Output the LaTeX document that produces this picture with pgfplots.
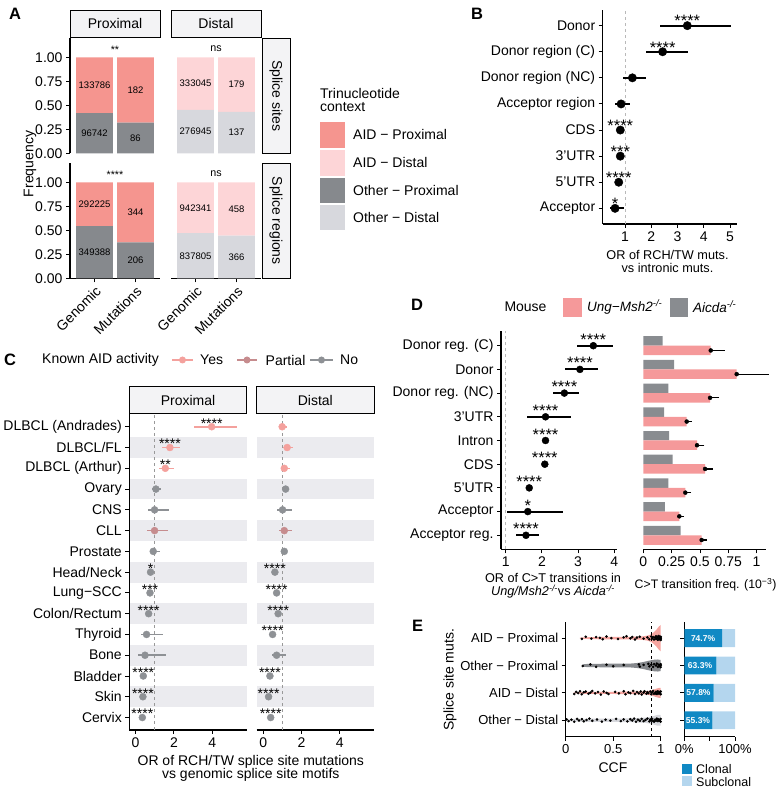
\documentclass[border=0pt]{standalone}
\usepackage{fontspec}
\setmainfont{Liberation Sans}
\usepackage{pgfplots}
\pgfplotsset{compat=1.18}

\definecolor{aidp}{HTML}{F5958F}
\definecolor{aidd}{HTML}{FDD5D7}
\definecolor{othp}{HTML}{86898D}
\definecolor{othd}{HTML}{D7D8DD}
\definecolor{strip}{HTML}{F3F3F5}
\definecolor{band}{HTML}{EBEBEF}
\definecolor{yes}{HTML}{F4A19D}
\definecolor{partial}{HTML}{C68C8E}
\definecolor{no}{HTML}{8E9195}
\definecolor{ung}{HTML}{F5999A}
\definecolor{aicda}{HTML}{898C90}
\definecolor{clonal}{HTML}{1089C4}
\definecolor{subclonal}{HTML}{B4D6EE}

\newcommand\fs[1]{\fontsize{#1}{#1}\selectfont}

\pgfplotsset{
  gg/.style={scale only axis, anchor=south west, clip=false, set layers,
    axis line style={line width=1.1pt},
    tick style={black, line width=0.9pt},
    major tick length=4pt,
    tick label style={font=\fs{14}},
    /pgf/number format/assume math mode=true},
}

\begin{document}
\begin{tikzpicture}[x=1pt,y=1pt]

% ================= A =================
\begin{axis}[gg, at={(70pt,634.7pt)}, width=90pt, height=115pt,
  xmin=0.4, xmax=2.6, ymin=0, ymax=1.2,
  axis x line=none, axis y line*=left, tick align=outside,
  ytick={0,0.25,0.5,0.75,1}, yticklabels={0.00,0.25,0.50,0.75,1.00},
  ybar stacked, bar width=0.9]
\addplot[fill=othp, draw=none] coordinates {(1,0.4197) (2,0.3209)};
\addplot[fill=aidp, draw=none] coordinates {(1,0.5803) (2,0.6791)};
\coordinate (a1) at (axis cs:1,0.710);
\coordinate (a2) at (axis cs:2,0.660);
\coordinate (a3) at (axis cs:1,0.210);
\coordinate (a4) at (axis cs:2,0.160);
\coordinate (a5) at (axis cs:1.5,1.08);
\end{axis}
\node[font=\fs{9.5}] at (a1) {133786};
\node[font=\fs{9.5}] at (a2) {182};
\node[font=\fs{9.5}] at (a3) {96742};
\node[font=\fs{9.5}] at (a4) {86};
\node[font=\fs{10.7}] at (a5) {**};

\begin{axis}[gg, at={(171pt,634.7pt)}, width=90pt, height=115pt,
  xmin=0.4, xmax=2.6, ymin=0, ymax=1.2, axis lines=none,
  ybar stacked, bar width=0.9]
\addplot[fill=othd, draw=none] coordinates {(1,0.4540) (2,0.4335)};
\addplot[fill=aidd, draw=none] coordinates {(1,0.5460) (2,0.5665)};
\coordinate (b1) at (axis cs:1,0.727);
\coordinate (b2) at (axis cs:2,0.717);
\coordinate (b3) at (axis cs:1,0.227);
\coordinate (b4) at (axis cs:2,0.217);
\coordinate (b5) at (axis cs:1.5,1.096);
\end{axis}
\node[font=\fs{9.5}] at (b1) {333045};
\node[font=\fs{9.5}] at (b2) {179};
\node[font=\fs{9.5}] at (b3) {276945};
\node[font=\fs{9.5}] at (b4) {137};
\node[font=\fs{10.7}] at (b5) {ns};

\begin{axis}[gg, at={(70pt,509.7pt)}, width=90pt, height=115pt,
  xmin=0.4, xmax=2.6, ymin=0, ymax=1.2,
  axis x line*=bottom, axis y line*=left, tick align=outside,
  xtick={1,2}, xticklabels={Genomic,Mutations},
  xticklabel style={rotate=45, anchor=north east, inner sep=2pt},
  ytick={0,0.25,0.5,0.75,1}, yticklabels={0.00,0.25,0.50,0.75,1.00},
  ybar stacked, bar width=0.9]
\addplot[fill=othp, draw=none] coordinates {(1,0.5446) (2,0.3745)};
\addplot[fill=aidp, draw=none] coordinates {(1,0.4554) (2,0.6255)};
\coordinate (c1) at (axis cs:1,0.772);
\coordinate (c2) at (axis cs:2,0.687);
\coordinate (c3) at (axis cs:1,0.272);
\coordinate (c4) at (axis cs:2,0.187);
\coordinate (c5) at (axis cs:1.5,1.08);
\end{axis}
\node[font=\fs{9.5}] at (c1) {292225};
\node[font=\fs{9.5}] at (c2) {344};
\node[font=\fs{9.5}] at (c3) {349388};
\node[font=\fs{9.5}] at (c4) {206};
\node[font=\fs{10.7}] at (c5) {****};

\begin{axis}[gg, at={(171pt,509.7pt)}, width=90pt, height=115pt,
  xmin=0.4, xmax=2.6, ymin=0, ymax=1.2,
  axis x line*=bottom, axis y line=none, tick align=outside,
  xtick={1,2}, xticklabels={Genomic,Mutations},
  xticklabel style={rotate=45, anchor=north east, inner sep=2pt},
  ybar stacked, bar width=0.9]
\addplot[fill=othd, draw=none] coordinates {(1,0.4706) (2,0.4442)};
\addplot[fill=aidd, draw=none] coordinates {(1,0.5294) (2,0.5558)};
\coordinate (d1) at (axis cs:1,0.735);
\coordinate (d2) at (axis cs:2,0.722);
\coordinate (d3) at (axis cs:1,0.235);
\coordinate (d4) at (axis cs:2,0.222);
\coordinate (d5) at (axis cs:1.5,1.096);
\end{axis}
\node[font=\fs{9.5}] at (d1) {942341};
\node[font=\fs{9.5}] at (d2) {458};
\node[font=\fs{9.5}] at (d3) {837805};
\node[font=\fs{9.5}] at (d4) {366};
\node[font=\fs{10.7}] at (d5) {ns};

% strips A
\draw[line width=0.9pt, fill=strip] (70,751) rectangle (160,778);
\draw[line width=0.9pt, fill=strip] (171,751) rectangle (261,778);
\node[font=\fs{14}] at (115,764.5) {Proximal};
\node[font=\fs{14}] at (216,764.5) {Distal};
\draw[line width=0.9pt, fill=strip] (262,634.7) rectangle (290,749.7);
\draw[line width=0.9pt, fill=strip] (262,509.7) rectangle (290,624.7);
\node[font=\fs{14}, rotate=-90] at (276,692.2) {Splice sites};
\node[font=\fs{14}, rotate=-90] at (276,567.2) {Splice regions};
\node[font=\fs{14}, rotate=90] at (30,624) {Frequency};

% legend A
\node[font=\fs{14}, anchor=west, inner sep=0pt] at (320,694.7) {Trinucleotide};
\node[font=\fs{14}, anchor=west, inner sep=0pt] at (320,681.3) {context};
\fill[aidp] (320,640.3) rectangle (345,666.3);
\fill[aidd] (320,612.3) rectangle (345,638);
\fill[othp] (320,585.3) rectangle (345,610.3);
\fill[othd] (320,558) rectangle (345,583);
\node[font=\fs{14}, anchor=west, inner sep=0pt] at (353,653.3) {AID − Proximal};
\node[font=\fs{14}, anchor=west, inner sep=0pt] at (353,625.1) {AID − Distal};
\node[font=\fs{14}, anchor=west, inner sep=0pt] at (353,597.8) {Other − Proximal};
\node[font=\fs{14}, anchor=west, inner sep=0pt] at (353,570.5) {Other − Distal};

% ================= B =================
\begin{axis}[gg, at={(602.7pt,564pt)}, width=134pt, height=214pt,
  xmin=0.15, xmax=5.25, ymin=0.4, ymax=8.6,
  axis x line*=bottom, axis y line*=left, tick align=outside,
  xtick={1,2,3,4,5}, ytick={1,...,8},
  yticklabels={Acceptor, 5'UTR, 3'UTR, CDS, Acceptor region, Donor region (NC), Donor region (C), Donor}]
\addplot[gray!55, dashed, line width=0.6pt] coordinates {(1,0.4) (1,8.6)};
\addplot[only marks, mark=*, mark size=4.2pt, black,
  error bars/.cd, x dir=both, x explicit, error mark=none, error bar style={line width=2pt}]
  coordinates {
  (3.37,8) += (1.66,0) -= (1.04,0)
  (2.43,7) += (0.98,0) -= (0.64,0)
  (1.28,6) += (0.51,0) -= (0.35,0)
  (0.85,5) += (0.32,0) -= (0.23,0)
  (0.82,4) += (0.03,0) -= (0.03,0)
  (0.82,3) += (0.03,0) -= (0.03,0)
  (0.76,2) += (0.03,0) -= (0.03,0)
  (0.62,1) += (0.34,0) -= (0.19,0)
  };
\node[font=\fs{16.5}, anchor=base] at (axis cs:3.37,7.95) {****};
\node[font=\fs{16.5}, anchor=base] at (axis cs:2.43,6.95) {****};
\node[font=\fs{16.5}, anchor=base] at (axis cs:0.82,3.95) {****};
\node[font=\fs{16.5}, anchor=base] at (axis cs:0.82,2.95) {***};
\node[font=\fs{16.5}, anchor=base] at (axis cs:0.76,1.95) {****};
\node[font=\fs{16.5}, anchor=base] at (axis cs:0.62,0.95) {*};
\end{axis}
\node[font=\fs{12.7}] at (667.5,533) {OR of RCH/TW muts.};
\node[font=\fs{12.7}] at (667.5,519.7) {vs intronic muts.};

% ================= C =================
\begin{axis}[gg, at={(129.3pt,58pt)}, width=117.4pt, height=315.7pt,
  xmin=-0.33, xmax=5.8, ymin=0.4, ymax=15.6,
  axis x line*=bottom, axis y line*=left, tick align=outside,
  xtick={0,2,4}, ytick={1,...,15},
  yticklabels={Cervix, Skin, Bladder, Bone, Thyroid, Colon/Rectum, Lung−SCC, Head/Neck, Prostate, CLL, CNS, Ovary, DLBCL (Arthur), DLBCL/FL, DLBCL (Andrades)}]
\begin{pgfonlayer}{axis background}
\fill[band] (axis cs:-0.33,1.5) rectangle (axis cs:5.8,2.5);
\fill[band] (axis cs:-0.33,3.5) rectangle (axis cs:5.8,4.5);
\fill[band] (axis cs:-0.33,5.5) rectangle (axis cs:5.8,6.5);
\fill[band] (axis cs:-0.33,7.5) rectangle (axis cs:5.8,8.5);
\fill[band] (axis cs:-0.33,9.5) rectangle (axis cs:5.8,10.5);
\fill[band] (axis cs:-0.33,11.5) rectangle (axis cs:5.8,12.5);
\fill[band] (axis cs:-0.33,13.5) rectangle (axis cs:5.8,14.5);
\end{pgfonlayer}
\addplot[gray!80, dashed, line width=0.6pt] coordinates {(1,0.4) (1,15.6)};
\addplot[only marks, mark=*, mark size=3.5pt, no, error bars/.cd, x dir=both, x explicit, error mark=none, error bar style={line width=1.5pt}]
  coordinates {
  (1.06,12) += (0.24,0) -= (0.19,0)
  (0.99,11) += (0.75,0) -= (0.36,0)
  (0.92,9) += (0.36,0) -= (0.17,0)
  (0.78,8) += (0.05,0) -= (0.05,0)
  (0.75,7) += (0.05,0) -= (0.05,0)
  (0.68,6) += (0.04,0) -= (0.04,0)
  (0.57,5) += (0.84,0) -= (0.31,0)
  (0.49,4) += (1.09,0) -= (0.35,0)
  (0.40,3) += (0.03,0) -= (0.03,0)
  (0.38,2) += (0.03,0) -= (0.03,0)
  (0.35,1) += (0.03,0) -= (0.03,0)
  };
\addplot[only marks, mark=*, mark size=3.5pt, partial, error bars/.cd, x dir=both, x explicit, error mark=none, error bar style={line width=1.5pt}]
  coordinates {(0.99,10) += (0.71,0) -= (0.38,0)};
\addplot[only marks, mark=*, mark size=3.5pt, yes, error bars/.cd, x dir=both, x explicit, error mark=none, error bar style={line width=1.5pt}]
  coordinates {
  (3.97,15) += (1.30,0) -= (0.93,0)
  (1.79,14) += (0.52,0) -= (0.43,0)
  (1.55,13) += (0.47,0) -= (0.33,0)
  };
\node[font=\fs{14}, anchor=base] at (axis cs:3.97,14.93) {****};
\node[font=\fs{14}, anchor=base] at (axis cs:1.79,13.93) {****};
\node[font=\fs{14}, anchor=base] at (axis cs:1.55,12.93) {**};
\node[font=\fs{14}, anchor=base] at (axis cs:0.78,7.93) {*};
\node[font=\fs{14}, anchor=base] at (axis cs:0.75,6.93) {***};
\node[font=\fs{14}, anchor=base] at (axis cs:0.68,5.93) {****};
\node[font=\fs{14}, anchor=base] at (axis cs:0.40,2.93) {****};
\node[font=\fs{14}, anchor=base] at (axis cs:0.38,1.93) {****};
\node[font=\fs{14}, anchor=base] at (axis cs:0.35,0.93) {****};
\end{axis}

\begin{axis}[gg, at={(256.7pt,58pt)}, width=117.3pt, height=315.7pt,
  xmin=-0.34, xmax=5.785, ymin=0.4, ymax=15.6,
  axis x line*=bottom, axis y line=none, tick align=outside,
  xtick={0,2,4}]
\begin{pgfonlayer}{axis background}
\fill[band] (axis cs:-0.34,1.5) rectangle (axis cs:5.785,2.5);
\fill[band] (axis cs:-0.34,3.5) rectangle (axis cs:5.785,4.5);
\fill[band] (axis cs:-0.34,5.5) rectangle (axis cs:5.785,6.5);
\fill[band] (axis cs:-0.34,7.5) rectangle (axis cs:5.785,8.5);
\fill[band] (axis cs:-0.34,9.5) rectangle (axis cs:5.785,10.5);
\fill[band] (axis cs:-0.34,11.5) rectangle (axis cs:5.785,12.5);
\fill[band] (axis cs:-0.34,13.5) rectangle (axis cs:5.785,14.5);
\end{pgfonlayer}
\addplot[gray!80, dashed, line width=0.6pt] coordinates {(1,0.4) (1,15.6)};
\addplot[only marks, mark=*, mark size=3.5pt, no, error bars/.cd, x dir=both, x explicit, error mark=none, error bar style={line width=1.5pt}]
  coordinates {
  (1.17,12) += (0.05,0) -= (0.05,0)
  (1.01,11) += (0.47,0) -= (0.28,0)
  (1.10,9) += (0.04,0) -= (0.04,0)
  (0.61,8) += (0.04,0) -= (0.04,0)
  (0.70,7) += (0.04,0) -= (0.04,0)
  (0.78,6) += (0.04,0) -= (0.04,0)
  (0.49,5) += (0.04,0) -= (0.04,0)
  (0.70,4) += (0.49,0) -= (0.26,0)
  (0.35,3) += (0.03,0) -= (0.03,0)
  (0.28,2) += (0.03,0) -= (0.03,0)
  (0.39,1) += (0.03,0) -= (0.03,0)
  };
\addplot[only marks, mark=*, mark size=3.5pt, partial, error bars/.cd, x dir=both, x explicit, error mark=none, error bar style={line width=1.5pt}]
  coordinates {(1.10,10) += (0.41,0) -= (0.26,0)};
\addplot[only marks, mark=*, mark size=3.5pt, yes, error bars/.cd, x dir=both, x explicit, error mark=none, error bar style={line width=1.5pt}]
  coordinates {
  (0.99,15) += (0.23,0) -= (0.15,0)
  (1.25,14) += (0.32,0) -= (0.21,0)
  (1.10,13) += (0.29,0) -= (0.18,0)
  };
\node[font=\fs{14}, anchor=base] at (axis cs:0.61,7.93) {****};
\node[font=\fs{14}, anchor=base] at (axis cs:0.70,6.93) {****};
\node[font=\fs{14}, anchor=base] at (axis cs:0.78,5.93) {****};
\node[font=\fs{14}, anchor=base] at (axis cs:0.49,4.93) {****};
\node[font=\fs{14}, anchor=base] at (axis cs:0.35,2.93) {****};
\node[font=\fs{14}, anchor=base] at (axis cs:0.28,1.93) {****};
\node[font=\fs{14}, anchor=base] at (axis cs:0.39,0.93) {****};
\end{axis}

% strips C
\draw[line width=0.9pt, fill=strip] (129.3,374.5) rectangle (246.7,401.3);
\draw[line width=0.9pt, fill=strip] (256.7,374.5) rectangle (374,401.3);
\node[font=\fs{14}] at (188,388) {Proximal};
\node[font=\fs{14}] at (315.3,388) {Distal};
\node[font=\fs{14}] at (250.8,26.3) {OR of RCH/TW splice site mutations};
\node[font=\fs{14}] at (250.8,13) {vs genomic splice site motifs};

% legend C
\node[font=\fs{14}, anchor=west, inner sep=0pt] at (42,428) {Known AID activity};
\draw[yes, line width=1.5pt] (172,428) -- (193,428);
\fill[yes] (182.5,428) circle (3.5);
\node[font=\fs{14}, anchor=west, inner sep=0pt] at (200,428) {Yes};
\draw[partial, line width=1.5pt] (237,428) -- (257,428);
\fill[partial] (247,428) circle (3.5);
\node[font=\fs{14}, anchor=west, inner sep=0pt] at (265.5,428) {Partial};
\draw[no, line width=1.5pt] (310,428) -- (333,428);
\fill[no] (321.5,428) circle (3.5);
\node[font=\fs{14}, anchor=west, inner sep=0pt] at (340,428) {No};

% ================= D =================
\begin{axis}[gg, at={(501pt,238.5pt)}, width=115.7pt, height=218pt,
  xmin=0.87, xmax=4.066, ymin=0.4, ymax=9.6,
  axis x line*=bottom, axis y line*=left, tick align=outside,
  xtick={1,2,3,4}, ytick={1,...,9},
  yticklabels={Acceptor reg., Acceptor, 5'UTR, CDS, Intron, 3'UTR, Donor reg. (NC), Donor, Donor reg. (C)}]
\addplot[gray!55, dashed, line width=0.6pt] coordinates {(1,0.4) (1,9.6)};
\addplot[only marks, mark=*, mark size=3.5pt, black,
  error bars/.cd, x dir=both, x explicit, error mark=none, error bar style={line width=2pt}]
  coordinates {
  (3.42,9) += (0.55,0) -= (0.44,0)
  (3.05,8) += (0.51,0) -= (0.41,0)
  (2.62,7) += (0.40,0) -= (0.32,0)
  (2.10,6) += (0.70,0) -= (0.50,0)
  (2.10,5) += (0.03,0) -= (0.03,0)
  (2.08,4) += (0.03,0) -= (0.03,0)
  (1.65,3) += (0.04,0) -= (0.04,0)
  (1.61,2) += (0.98,0) -= (0.58,0)
  (1.56,1) += (0.37,0) -= (0.28,0)
  };
\node[font=\fs{16.5}, anchor=base] at (axis cs:3.42,9.02) {****};
\node[font=\fs{16.5}, anchor=base] at (axis cs:3.05,8.02) {****};
\node[font=\fs{16.5}, anchor=base] at (axis cs:2.62,7.02) {****};
\node[font=\fs{16.5}, anchor=base] at (axis cs:2.10,6.02) {****};
\node[font=\fs{16.5}, anchor=base] at (axis cs:2.10,5.02) {****};
\node[font=\fs{16.5}, anchor=base] at (axis cs:2.08,4.02) {****};
\node[font=\fs{16.5}, anchor=base] at (axis cs:1.65,3.02) {****};
\node[font=\fs{16.5}, anchor=base] at (axis cs:1.61,2.02) {*};
\node[font=\fs{16.5}, anchor=base] at (axis cs:1.56,1.02) {****};
\end{axis}

\begin{axis}[gg, at={(643.3pt,238.5pt)}, width=122.4pt, height=218pt,
  xmin=0, xmax=1.08, ymin=0.4, ymax=9.6,
  axis x line*=bottom, axis y line=none, tick align=outside,
  xtick={0,0.25,0.5,0.75,1}, xticklabels={0,0.25,0.5,0.75,1}]
\addplot[xbar, bar width=0.4, bar shift=0.2, fill=aicda, draw=none] coordinates {
  (0.170,9) (0.271,8) (0.221,7) (0.183,6) (0.227,5) (0.259,4) (0.221,3) (0.191,2) (0.330,1)};
\addplot[xbar, bar width=0.4, bar shift=-0.2, fill=ung, draw=none] coordinates {
  (0.595,9) (0.824,8) (0.589,7) (0.383,6) (0.474,5) (0.545,4) (0.371,3) (0.318,2) (0.515,1)};
\addplot[only marks, mark=none, black,
  error bars/.cd, x dir=plus, x explicit, error bar style={line width=1.2pt},
  error mark options={black, mark size=3.5pt, line width=1.2pt}]
  coordinates {
  (0.595,8.8) += (0.091,0)
  (0.824,7.8) += (0.250,0)
  (0.589,6.8) += (0.050,0)
  (0.383,5.8) += (0.014,0)
  (0.474,4.8) += (0.035,0)
  (0.545,3.8) += (0.038,0)
  (0.371,2.8) += (0.021,0)
  (0.318,1.8) += (0.012,0)
  (0.515,0.8) += (0.015,0)
  };
\end{axis}

\node[font=\fs{12.7}] at (553,209.7) {OR of C>T transitions in};
\node[font=\fs{12.7}] at (553,196.3) {\textit{Ung/Msh2}\textsuperscript{\itshape -/-}vs \textit{Aicda}\textsuperscript{\itshape -/-}};
\node[font=\fs{12.3}, anchor=west, inner sep=0pt] at (634.5,203) {C>T transition freq. (10\textsuperscript{−3})};

% legend D
\node[font=\fs{14}, anchor=west, inner sep=0pt] at (504.3,481) {Mouse};
\fill[ung] (563.3,471.3) rectangle (581.7,489.7);
\node[font=\fs{13.5}, anchor=west, inner sep=0pt] at (587,481) {\textit{Ung−Msh2}\textsuperscript{\itshape -/-}};
\fill[aicda] (670,471.3) rectangle (688.3,489.7);
\node[font=\fs{13.5}, anchor=west, inner sep=0pt] at (693,481) {\textit{Aicda}\textsuperscript{\itshape -/-}};

% ================= E =================
\begin{axis}[gg, at={(565.7pt,51.3pt)}, width=95pt, height=115pt,
  xmin=0, xmax=1, ymin=0.4, ymax=4.6,
  axis x line*=bottom, axis y line*=left, tick align=outside,
  xtick={0,0.5,1}, xticklabels={0,0.5,1}, ytick={1,2,3,4},
  yticklabels={Other − Distal, AID − Distal, Other − Proximal, AID − Proximal},
  tick label style={font=\fs{13}}]
% violins
\addplot[fill=aidp!85, draw=none] coordinates {
  (0.15,4.02)(0.25,4.035)(0.4,4.045)(0.55,4.05)(0.7,4.05)(0.8,4.06)(0.86,4.09)(0.9,4.14)(0.93,4.22)(0.96,4.33)(0.98,4.42)(1.0,4.48)
  (1.0,3.52)(0.98,3.58)(0.96,3.67)(0.93,3.78)(0.9,3.86)(0.86,3.91)(0.8,3.94)(0.7,3.95)(0.55,3.95)(0.4,3.955)(0.25,3.965)(0.15,3.98)} -- cycle;
\addplot[fill=othp, draw=none] coordinates {
  (0.17,3.01)(0.19,3.05)(0.25,3.06)(0.4,3.065)(0.55,3.065)(0.68,3.07)(0.75,3.09)(0.82,3.13)(0.88,3.18)(0.93,3.21)(0.97,3.22)(1.0,3.2)
  (1.0,2.8)(0.97,2.78)(0.93,2.79)(0.88,2.82)(0.82,2.87)(0.75,2.91)(0.68,2.93)(0.55,2.935)(0.4,2.935)(0.25,2.94)(0.19,2.95)(0.17,2.99)} -- cycle;
\addplot[fill=aidp!85, draw=none] coordinates {
  (0.08,2.01)(0.15,2.03)(0.3,2.035)(0.5,2.04)(0.7,2.045)(0.85,2.06)(0.9,2.09)(0.95,2.15)(0.98,2.18)(1.0,2.18)
  (1.0,1.82)(0.98,1.82)(0.95,1.85)(0.9,1.91)(0.85,1.94)(0.7,1.955)(0.5,1.96)(0.3,1.965)(0.15,1.97)(0.08,1.99)} -- cycle;
\addplot[fill=othd, draw=none] coordinates {
  (0.01,1.02)(0.1,1.05)(0.3,1.06)(0.5,1.06)(0.7,1.07)(0.85,1.1)(0.92,1.15)(0.97,1.2)(1.0,1.2)
  (1.0,0.8)(0.97,0.8)(0.92,0.85)(0.85,0.9)(0.7,0.93)(0.5,0.94)(0.3,0.94)(0.1,0.95)(0.01,0.98)} -- cycle;
\addplot[black, dashed, line width=0.7pt] coordinates {(0.9,0.4) (0.9,4.6)};
% jittered mutations
\addplot[only marks, mark=*, mark size=1.1pt, black] coordinates {
  (0.17,3.97)(0.21,4.05)(0.27,3.98)(0.32,4.04)(0.36,4.01)(0.39,3.96)(0.43,4.06)(0.48,4.00)(0.55,3.97)(0.61,4.03)
  (0.64,4.07)(0.68,3.99)(0.70,4.04)(0.73,3.95)(0.75,4.02)(0.78,4.05)(0.82,3.98)(0.86,4.03)(0.88,3.96)(0.90,4.06)
  (0.91,3.99)(0.92,4.04)(0.93,3.95)(0.94,4.02)(0.95,3.97)(0.95,4.07)(0.96,4.00)(0.97,3.94)(0.97,4.05)(0.98,3.99)
  (0.98,4.08)(0.99,3.96)(0.99,4.03)(1.00,3.98)(1.00,4.05)(1.00,3.93)(1.00,4.01)
  (0.18,2.98)(0.26,3.04)(0.32,2.95)(0.43,3.03)(0.50,2.97)(0.61,3.02)(0.77,3.04)(0.78,2.96)(0.82,3.02)(0.87,3.06)
  (0.88,2.97)(0.90,3.03)(0.92,2.95)(0.93,3.05)(0.95,3.00)(0.96,3.07)(0.97,2.95)(0.98,3.03)(0.99,2.98)(1.00,3.05)
  (1.00,2.94)(1.00,3.01)
  (0.09,1.96)(0.11,2.04)(0.13,1.99)(0.15,2.06)(0.17,1.95)(0.19,2.02)(0.21,2.05)(0.24,1.97)(0.26,2.01)(0.28,2.07)
  (0.31,1.98)(0.34,2.03)(0.37,1.94)(0.40,2.05)(0.43,2.00)(0.45,1.96)(0.52,2.04)(0.56,1.98)(0.61,2.06)(0.63,1.95)
  (0.66,2.02)(0.68,1.99)(0.71,2.07)(0.73,1.96)(0.75,2.03)(0.77,1.98)(0.79,2.05)(0.80,1.94)(0.82,2.01)(0.83,2.06)
  (0.85,1.97)(0.86,2.03)(0.87,1.99)(0.89,2.05)(0.90,1.95)(0.91,2.02)(0.92,2.07)(0.93,1.97)(0.94,2.00)(0.95,2.04)
  (0.96,1.96)(0.97,2.06)(0.98,1.98)(0.99,2.03)(1.00,1.95)(1.00,2.05)(0.99,1.99)(0.97,2.01)(0.95,1.97)
  (0.01,1.03)(0.03,0.97)(0.06,1.02)(0.09,0.95)(0.12,1.05)(0.14,0.99)(0.17,1.04)(0.19,0.96)(0.22,1.01)(0.25,1.06)
  (0.28,0.98)(0.33,1.03)(0.38,0.95)(0.42,1.02)(0.47,0.99)(0.53,1.05)(0.58,0.97)(0.61,1.03)(0.65,0.96)(0.68,1.04)
  (0.70,0.99)(0.72,1.06)(0.74,0.95)(0.76,1.02)(0.78,0.98)(0.80,1.05)(0.82,0.97)(0.84,1.01)(0.86,1.06)(0.88,0.96)
  (0.89,1.03)(0.90,0.99)(0.91,1.05)(0.93,0.95)(0.94,1.02)(0.95,0.98)(0.96,1.06)(0.97,0.97)(0.98,1.03)(0.99,0.99)
  (1.00,1.05)(1.00,0.95)(0.98,1.01)(0.96,1.04)(0.92,0.97)
  };
\end{axis}

\begin{axis}[gg, at={(684.3pt,51.3pt)}, width=50.7pt, height=115pt,
  xmin=0, xmax=1, ymin=0.4, ymax=4.6,
  axis x line*=bottom, axis y line*=left, tick align=outside,
  xtick={0,0.5,1}, xticklabels={0\%,,100\%}, ytick={1,2,3,4}, yticklabels={},
  tick label style={font=\fs{13}},
  xbar stacked, bar width=0.65]
\addplot[fill=clonal, draw=none] coordinates {(0.553,1) (0.578,2) (0.633,3) (0.747,4)};
\addplot[fill=subclonal, draw=none] coordinates {(0.447,1) (0.422,2) (0.367,3) (0.253,4)};
\coordinate (e1) at (axis cs:0.27,1);
\coordinate (e2) at (axis cs:0.28,2);
\coordinate (e3) at (axis cs:0.31,3);
\coordinate (e4) at (axis cs:0.37,4);
\end{axis}
\node[white, font=\fs{8.5}\bfseries] at (e1) {55.3\%};
\node[white, font=\fs{8.5}\bfseries] at (e2) {57.8\%};
\node[white, font=\fs{8.5}\bfseries] at (e3) {63.3\%};
\node[white, font=\fs{8.5}\bfseries] at (e4) {74.7\%};

\node[font=\fs{14}, rotate=90] at (450,108) {Splice site muts.};
\node[font=\fs{14}] at (613,20.3) {CCF};
\fill[clonal] (681.7,14) rectangle (691.7,24);
\fill[subclonal] (681.7,2) rectangle (691.7,12);
\node[font=\fs{12.5}, anchor=west, inner sep=0pt] at (696,18.5) {Clonal};
\node[font=\fs{12.5}, anchor=west, inner sep=0pt] at (696,6.3) {Subclonal};

% panel letters
\node[font=\fs{16.5}\bfseries] at (15,774) {A};
\node[font=\fs{16.5}\bfseries] at (477,774) {B};
\node[font=\fs{16.5}\bfseries] at (10,428) {C};
\node[font=\fs{16.5}\bfseries] at (417,483.5) {D};
\node[font=\fs{16.5}\bfseries] at (417.5,162) {E};

\pgfresetboundingbox
\path[use as bounding box] (0,0) rectangle (778,788);
\end{tikzpicture}
\end{document}
